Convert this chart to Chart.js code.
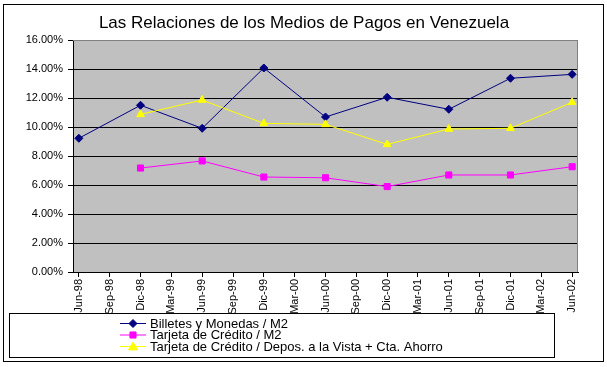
<!DOCTYPE html>
<html>
<head>
<meta charset="utf-8">
<script src="https://cdn.jsdelivr.net/npm/chart.js@4/dist/chart.umd.min.js"></script>
<style>
html,body{margin:0;padding:0;background:#fff;}
#wrap{width:607px;height:367px;}
</style>
</head>
<body>
<div id="wrap"><canvas id="c" width="607" height="367"></canvas></div>
<script>
const title = 'Las Relaciones de los Medios de Pagos en Venezuela';
const categories = ['Jun-98','Sep-98','Dic-98','Mar-99','Jun-99','Sep-99','Dic-99','Mar-00','Jun-00','Sep-00','Dic-00','Mar-01','Jun-01','Sep-01','Dic-01','Mar-02','Jun-02'];
const seriesNames = ['Billetes y Monedas / M2','Tarjeta de Crédito / M2','Tarjeta de Crédito / Depos. a la Vista + Cta. Ahorro'];
const billetes     = [9.22,null,11.50,null,9.91,null,14.07,null,10.69,null,12.05,null,11.22,null,13.36,null,13.63];
const tarjetaM2    = [null,null,7.17,null,7.66,null,6.55,null,6.50,null,5.89,null,6.69,null,6.69,null,7.26];
const tarjetaDepos = [null,null,10.87,null,11.86,null,10.25,null,10.18,null,8.80,null,9.86,null,9.91,null,11.70];
const yTicks = [0,2,4,6,8,10,12,14,16];

const colors = ['#000080','#FF00FF','#FFFF00'];
const styles = ['rectRot','rect','triangle'];
const radii = [4,4.3,4.5];

Chart.defaults.font.family = '"Liberation Sans", Arial, sans-serif';
Chart.defaults.color = '#000';

function toXY(arr){ return categories.map((c,i)=>({x:i,y:arr[i]})); }

function drawMarker(ctx, style, r, x, y, color){
  ctx.save();
  ctx.fillStyle = color; ctx.strokeStyle = color; ctx.lineWidth = 1;
  ctx.beginPath();
  if(style==='rectRot'){
    ctx.moveTo(x-r,y); ctx.lineTo(x,y-r); ctx.lineTo(x+r,y); ctx.lineTo(x,y+r);
  } else if(style==='rect'){
    const s = r*Math.SQRT1_2; ctx.rect(x-s,y-s,2*s,2*s);
  } else {
    ctx.moveTo(x,y-r); ctx.lineTo(x+r,y+r*0.75); ctx.lineTo(x-r,y+r*0.75);
  }
  ctx.closePath(); ctx.fill(); ctx.stroke();
  ctx.restore();
}

const deco = {
  id:'deco',
  beforeDraw(chart){
    const ctx = chart.ctx, a = chart.chartArea;
    ctx.save();
    ctx.fillStyle = '#fff'; ctx.fillRect(0,0,chart.width,chart.height);
    ctx.fillStyle = '#C0C0C0'; ctx.fillRect(a.left,a.top,a.right-a.left,a.bottom-a.top);
    ctx.restore();
  },
  beforeDatasetsDraw(chart){
    const ctx = chart.ctx, a = chart.chartArea;
    ctx.save();
    ctx.strokeStyle = '#808080'; ctx.lineWidth = 1;
    ctx.beginPath();
    ctx.moveTo(a.left, a.top+0.5); ctx.lineTo(a.right-0.5, a.top+0.5); ctx.lineTo(a.right-0.5, a.bottom);
    ctx.stroke();
    ctx.restore();
  },
  afterDraw(chart){
    const ctx = chart.ctx;
    ctx.save();
    // outer frame
    ctx.strokeStyle = '#000'; ctx.lineWidth = 1;
    ctx.strokeRect(3.5,4.5,600,357);
    // title
    ctx.fillStyle = '#000';
    ctx.font = '17px "Liberation Sans", Arial, sans-serif';
    ctx.textAlign = 'center'; ctx.textBaseline = 'middle';
    ctx.fillText(title, 304, 23);
    // legend
    ctx.fillStyle = '#fff';
    ctx.fillRect(9.5,313.5,545,44);
    ctx.strokeStyle = '#000';
    ctx.strokeRect(9.5,313.5,545,44);
    const rows = [323,334.5,346];
    ctx.font = '13px "Liberation Sans", Arial, sans-serif';
    ctx.textAlign = 'left'; ctx.textBaseline = 'middle';
    for(let i=0;i<3;i++){
      const y = rows[i];
      ctx.strokeStyle = colors[i]; ctx.lineWidth = 1;
      ctx.beginPath(); ctx.moveTo(120,y+0.5); ctx.lineTo(146,y+0.5); ctx.stroke();
      drawMarker(ctx, styles[i], radii[i], 133, y+0.5, colors[i]);
      ctx.fillStyle = '#000';
      ctx.fillText(chart.data.datasets[i].label, 150, y+1);
    }
    ctx.restore();
  }
};

const datasets = [billetes, tarjetaM2, tarjetaDepos].map((arr,i)=>({
  label: seriesNames[i],
  data: toXY(arr),
  borderColor: colors[i],
  backgroundColor: colors[i],
  borderWidth: 1,
  pointStyle: styles[i],
  pointRadius: radii[i],
  pointBorderWidth: 1,
  pointHoverRadius: radii[i],
  spanGaps: true,
  tension: 0,
  order: 2-i
}));

new Chart(document.getElementById('c'), {
  type: 'line',
  data: { datasets },
  options: {
    responsive: false,
    animation: false,
    layout: { padding: { left: 0, right: 29, top: 40, bottom: 0 } },
    plugins: { legend: { display: false }, title: { display: false }, tooltip: { enabled: false } },
    scales: {
      x: {
        type: 'linear',
        min: -0.19, max: 16.19,
        afterBuildTicks(scale){ scale.ticks = categories.map((c,i)=>({value:i})); },
        afterFit(scale){ scale.height = 95; },
        ticks: {
          autoSkip: false, maxRotation: 90, minRotation: 90, padding: 2,
          font: { size: 11 }, color: '#000',
          callback: (v)=>categories[v]
        },
        grid: { drawOnChartArea: false, color: '#000', tickColor: '#000', tickLength: 5, lineWidth: 1 },
        border: { display: true, color: '#000', width: 1 }
      },
      y: {
        min: 0, max: 16,
        afterBuildTicks(scale){ scale.ticks = yTicks.map(v=>({value:v})); },
        afterFit(scale){ scale.width = 73; },
        ticks: {
          padding: 5, font: { size: 11 }, color: '#000',
          callback: (v)=>Number(v).toFixed(2)+'%'
        },
        grid: {
          color: (c)=> (c.tick && c.tick.value===16) ? '#808080' : '#000',
          tickColor: '#000', tickLength: 5, lineWidth: 1
        },
        border: { display: true, color: '#000', width: 1 }
      }
    }
  },
  plugins: [deco]
});
</script>
</body>
</html>
